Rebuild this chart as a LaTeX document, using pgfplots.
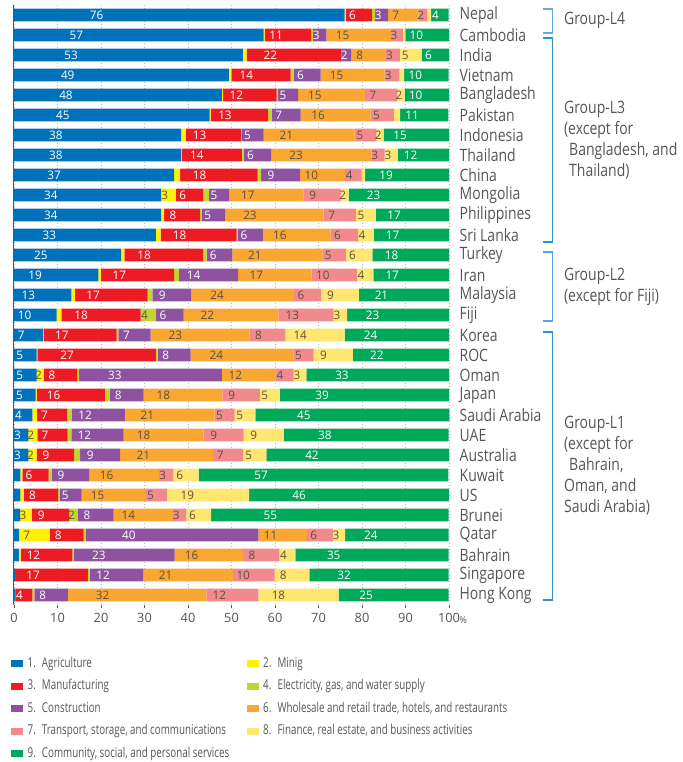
\documentclass[border=0pt]{standalone}
\usepackage{fontspec}
\setmainfont{Open Sans}[FakeStretch=0.82]
\newfontfamily\numfont{Open Sans}
\newfontfamily\legfont{Open Sans}[FakeStretch=0.72]
\usepackage{pgfplots}
\usepackage{pgfplotstable}
\pgfplotsset{compat=1.18}
\definecolor{cAgr}{RGB}{0,114,188}
\definecolor{cMin}{RGB}{255,242,0}
\definecolor{cMan}{RGB}{237,28,36}
\definecolor{cEle}{RGB}{190,214,47}
\definecolor{cCon}{RGB}{142,82,161}
\definecolor{cWho}{RGB}{249,166,51}
\definecolor{cTra}{RGB}{242,137,140}
\definecolor{cFin}{RGB}{255,230,110}
\definecolor{cCom}{RGB}{0,168,89}
\definecolor{txt}{RGB}{85,85,85}
\definecolor{darklab}{RGB}{95,80,65}
\definecolor{brk}{RGB}{45,145,212}
\pgfplotstableread{
idx a1 a2 a3 a4 a5 a6 a7 a8 a9
0 76 0.3 6 0.7 3 7 2 0.9 4
1 57.4 0.2 10.7 0.4 3.1 14.9 2.7 0.6 10
2 52.6 0.9 21.8 0.1 2.1 8 3.2 5 6.3
3 49.4 0.6 13.6 0.7 6.2 14.7 3.4 1.1 10.2
4 47.8 0.2 12.4 0.3 4.6 15.4 7.4 1.7 10.2
5 45 0.2 13.2 0.8 6.7 16.1 5.3 1.45 11.1
6 38.4 1.1 12.7 0.2 5 20.9 5 1.7 15
7 38.4 0.2 13.8 0.4 6.3 23.1 3 3 11.8
8 36.8 1.4 17.8 0.8 9 10.3 3.8 0.8 19.3
9 33.8 3.4 6.3 1.3 4.7 17 8.6 1.8 23.1
10 33.8 0.7 8.3 0.4 5.4 22.6 7.4 4.6 16.8
11 32.6 1.1 17.5 0.2 5.8 15.6 6.3 3.6 17.3
12 24.6 0.8 18.1 0.8 5.9 20.7 5.4 6.1 17.6
13 19.4 0.6 16.8 1.1 13.6 16.9 10.4 3.8 17.4
14 13.2 0.8 16.7 1.1 9 23.6 6.2 8.7 20.7
15 9.8 1.1 18.2 3.6 6.3 21.8 12.7 3.1 23.4
16 6.7 0.1 16.8 0.4 7.4 22.7 8.3 13.6 24
17 5.2 0.2 27.2 0.4 7.6 23.6 4.7 9 22.1
18 5.2 1.6 7.7 0.5 32.8 12.3 4.2 2.9 32.8
19 5 0.2 15.7 1.1 7.8 18.1 8.6 4.6 38.9
20 4.2 1.1 6.9 1.1 12.2 20.6 4.6 4.8 44.6
21 3.3 2.1 6.9 0.9 12 18.4 9.2 9.2 37.9
22 3.3 1.9 8.6 1.4 9.2 21.3 6.9 5.4 42
23 1.45 0.5 6 0.7 8.6 16.1 3.3 5.8 57.4
24 1.45 0.8 7.9 0.4 5 14.6 5 18.9 45.9
25 1.4 2.7 8.6 2 8.2 13.6 3.1 5.7 54.6
26 1.2 7 7.8 0.5 39.7 11.2 5.9 2.8 23.8
27 1.1 0.4 11.9 0.3 23.2 15.7 8.4 3.7 35.2
28 0.2 0 16.8 0.4 12.3 20.6 9.6 8 32
29 0.3 0 3.9 0.5 7.7 31.8 12 18.4 25.3
}\datatable
\pgfplotsset{/pgf/number format/assume math mode=true}
\begin{document}
\begin{tikzpicture}
\begin{axis}[
  scale only axis, width=326.25pt, height=450pt,
  xbar stacked, bar width=9.4pt,
  xmin=0, xmax=100, ymin=-0.5, ymax=29.5, y dir=reverse,
  clip=false,
  axis line style={draw=none},
  xtick={0,10,...,100}, xtick pos=bottom, tick align=outside,
  major tick length=2.6pt,
  xtick style={draw=txt, line width=0.6pt},
  xticklabel style={font=\numfont\fontsize{9.6}{11}\selectfont, text=txt, inner sep=0pt, yshift=-3pt},
  xmajorgrids, major grid style={dotted, line width=0.7pt, gray!55},
  ytick={0,...,29}, ytick style={draw=none}, yticklabel pos=right,
  yticklabels={Nepal,Cambodia,India,Vietnam,Bangladesh,Pakistan,Indonesia,Thailand,China,Mongolia,Philippines,Sri Lanka,Turkey,Iran,Malaysia,Fiji,Korea,ROC,Oman,Japan,Saudi Arabia,UAE,Australia,Kuwait,US,Brunei,Qatar,Bahrain,Singapore,Hong Kong},
  yticklabel style={font=\fontsize{12.8}{14}\selectfont, text=txt, inner sep=0pt, anchor=west, xshift=5.2pt},
  point meta=x,
  visualization depends on={rawx \as \rawx},
  nodes near coords={\pgfmathsetmacro\tmpchk{\rawx>=1.5}\ifdim\tmpchk pt>0.5pt \pgfmathprintnumber[fixed,precision=0]{\rawx}\fi},
  nodes near coords align={center},
  every node near coord/.append style={anchor=center, inner sep=0pt, font=\numfont\fontsize{8.8}{10}\selectfont, shift={(axis direction cs:-\rawx/4,0)}},
  legend columns=2, legend cell align=left,
  legend image code/.code={\fill[#1] (0pt,-2.6pt) rectangle (9pt,2.6pt);},
  legend style={at={(axis description cs:-0.0069,-0.0845)}, anchor=north west, draw=none, fill=none, inner sep=0pt, outer sep=0pt,
    font=\legfont\fontsize{10.2}{12}\selectfont, text=txt,
    nodes={inner sep=1pt, text height=7.6pt, text depth=2.4pt},
    row sep=4.9pt,
    /tikz/column 1/.style={column sep=2.5pt},
    /tikz/column 2/.style={column sep=12pt},
    /tikz/column 3/.style={column sep=2.5pt}},
]
\addplot[fill=cAgr, draw=none, every node near coord/.append style={text=white}] table[x=a1,y=idx]{\datatable};
\addplot[fill=cMin, draw=none, every node near coord/.append style={text=darklab}] table[x=a2,y=idx]{\datatable};
\addplot[fill=cMan, draw=none, every node near coord/.append style={text=white}] table[x=a3,y=idx]{\datatable};
\addplot[fill=cEle, draw=none, every node near coord/.append style={text=darklab}] table[x=a4,y=idx]{\datatable};
\addplot[fill=cCon, draw=none, every node near coord/.append style={text=white}] table[x=a5,y=idx]{\datatable};
\addplot[fill=cWho, draw=none, every node near coord/.append style={text=darklab}] table[x=a6,y=idx]{\datatable};
\addplot[fill=cTra, draw=none, every node near coord/.append style={text=darklab}] table[x=a7,y=idx]{\datatable};
\addplot[fill=cFin, draw=none, every node near coord/.append style={text=darklab}] table[x=a8,y=idx]{\datatable};
\addplot[fill=cCom, draw=none, every node near coord/.append style={text=white}] table[x=a9,y=idx]{\datatable};
\legend{{1.\hspace{0.45em}Agriculture},{2.\hspace{0.45em}Minig},{3.\hspace{0.45em}Manufacturing},{4.\hspace{0.45em}Electricity, gas, and water supply},{5.\hspace{0.45em}Construction},{6.\hspace{0.45em}Wholesale and retail trade, hotels, and restaurants},{7.\hspace{0.45em}Transport, storage, and communications},{8.\hspace{0.45em}Finance, real estate, and business activities},{9.\hspace{0.45em}Community, social, and personal services}}
% left axis line
\draw[txt, line width=0.75pt] (axis description cs:0,0) -- (axis description cs:0,1);
% percent sign
\node[anchor=west, inner sep=0pt, text=txt, font=\numfont\fontsize{7}{8}\selectfont] at (axis cs:102.3,30.25) {\%};
% brackets
\draw[brk!75, line width=0.8pt] (axis cs:121.6,-0.3) -- (axis cs:123.7,-0.3) -- (axis cs:123.7,0.9) -- (axis cs:121.6,0.9);
\draw[brk, line width=0.8pt] (axis cs:121.6,1.15) -- (axis cs:123.7,1.15) -- (axis cs:123.7,11.35) -- (axis cs:121.6,11.35);
\draw[brk!80, line width=0.8pt] (axis cs:121.6,11.85) -- (axis cs:123.7,11.85) -- (axis cs:123.7,15.3) -- (axis cs:121.6,15.3);
\draw[brk, line width=0.8pt] (axis cs:121.6,15.85) -- (axis cs:123.7,15.85) -- (axis cs:123.7,29.25) -- (axis cs:121.6,29.25);
% group labels
\node[anchor=west, align=left, inner sep=0pt, text=txt, font=\fontsize{12.8}{15.75}\selectfont] at (axis cs:126.4,0.285) {Group-L4};
\node[anchor=west, align=left, inner sep=0pt, text=txt, font=\fontsize{12.8}{15.75}\selectfont] at (axis cs:126.4,6.25) {Group-L3\\(except for\\\hspace{0.3em}Bangladesh, and\\\hspace{0.3em}Thailand)};
\node[anchor=west, align=left, inner sep=0pt, text=txt, font=\fontsize{12.8}{15.75}\selectfont] at (axis cs:126.4,13.575) {Group-L2\\(except for Fiji)};
\node[anchor=west, align=left, inner sep=0pt, text=txt, font=\fontsize{12.8}{15.75}\selectfont] at (axis cs:126.4,22.55) {Group-L1\\(except for\\\hspace{0.3em}Bahrain,\\Oman, and\\Saudi Arabia)};
\coordinate (bbsw) at (axis description cs:-0.03218,-0.26167);
\coordinate (bbne) at (axis description cs:1.53793,1.008333);
\end{axis}
\pgfresetboundingbox
\path (bbsw) rectangle (bbne);
\end{tikzpicture}
\end{document}
